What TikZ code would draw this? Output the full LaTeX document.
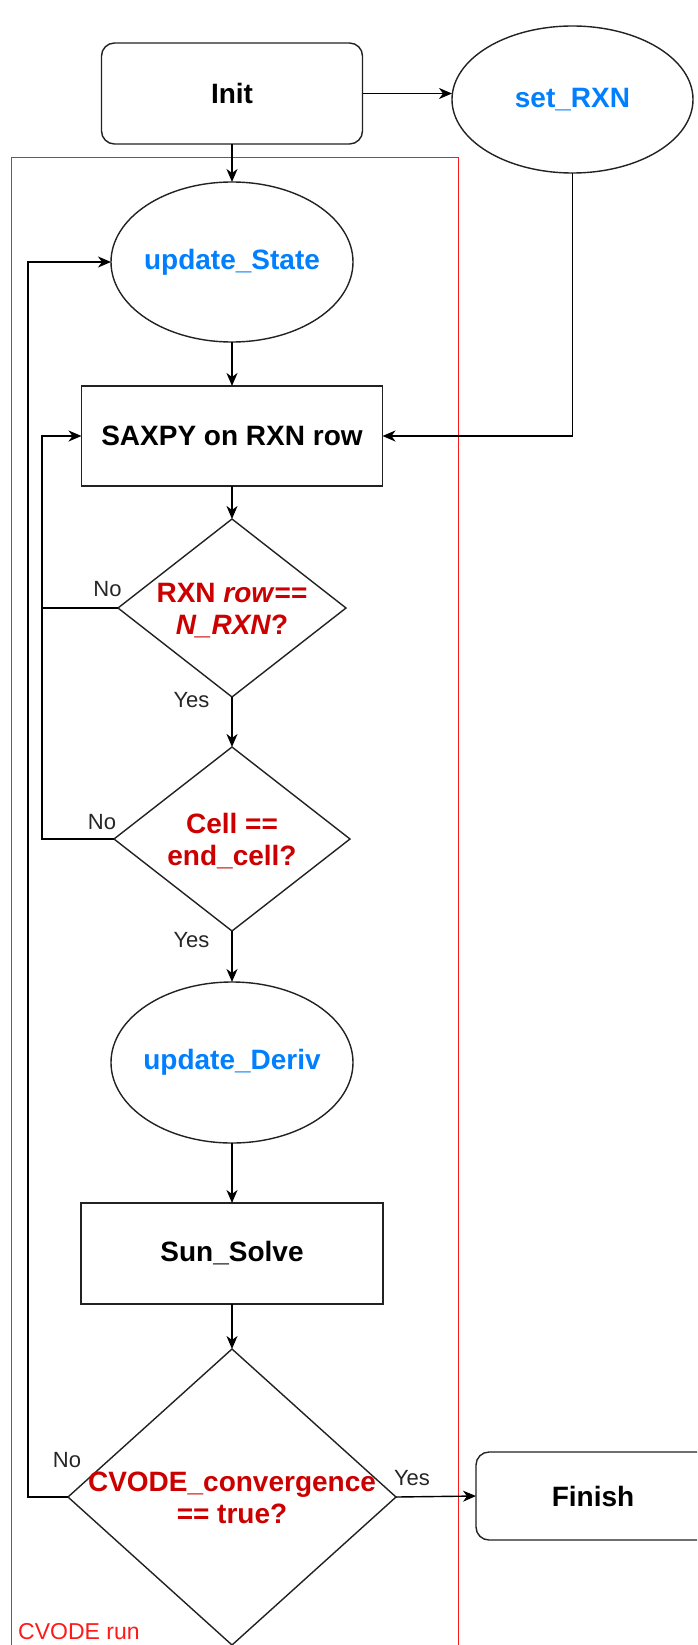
\documentclass[tikz,border=0pt]{standalone}
\usepackage{fontspec}
\setmainfont{Liberation Sans}
\usetikzlibrary{shapes.geometric,arrows.meta}

\definecolor{fnblue}{HTML}{007FFF}
\definecolor{condred}{HTML}{CC0000}
\definecolor{framered}{HTML}{FF1A1A}
\definecolor{edge}{HTML}{222222}

\newcommand\bigtext{\fontsize{28}{32}\selectfont\bfseries}
\newcommand\smalltext{\fontsize{22}{26}\selectfont}
\newcommand\frametext{\fontsize{23}{27}\selectfont}

\tikzset{
  base/.style={draw=edge, line width=1.4pt, inner sep=0pt, outer sep=0pt},
  rbox/.style={base, rectangle, rounded corners=13pt, font=\bigtext},
  pbox/.style={base, rectangle, font=\bigtext},
  fn/.style={base, ellipse},
  fnlabel/.style={font=\bigtext, text=fnblue},
  cond/.style={base, diamond},
  condtext/.style={font=\bigtext, text=condred, align=center},
  answer/.style={font=\smalltext, text=black!85, inner sep=0pt},
  flow/.style={draw=black, line width=1.4pt, -{Stealth[length=13pt,width=11pt,inset=4pt]}},
  link/.style={draw=black, line width=1.4pt},
  runframe/.style={draw=framered, line width=1pt, inner sep=0pt, outer sep=0pt, rectangle}
}

\begin{document}
\begin{tikzpicture}[x=1pt, y=-1pt]
  \useasboundingbox (0,0) rectangle (697,1645);
  \clip (0,0) rectangle (697,1645);
  \fill[white] (0,0) rectangle (697,1645);

  % solver-loop container
  \node[runframe, anchor=north west, minimum width=447pt, minimum height=1520pt] (run) at (11,158) {};
  \node[font=\frametext, text=framered, anchor=base west, inner sep=0pt] (runlabel) at (18,1639) {CVODE run};

  % main column
  \node[rbox, minimum width=261pt, minimum height=101pt] (init) at (232,93.5) {Init};
  \node[fn, minimum width=241pt, minimum height=147pt,
        label={[fnlabel]center:set\_RXN}] (setrxn) at (572.5,99.5) {};
  \node[fn, minimum width=242pt, minimum height=160pt,
        label={[fnlabel]center:update\_State}] (ust) at (232,262) {};
  \node[pbox, minimum width=301pt, minimum height=100pt] (saxpy) at (232,436) {SAXPY on RXN row};

  \node[cond, minimum width=228pt, minimum height=178pt] (d1) at (232,608) {};
  \node[condtext] (d1t) at ([yshift=-3pt]d1.center) {RXN \textit{row}==\\\textit{N\_RXN}?};

  \node[cond, minimum width=236pt, minimum height=184pt] (d2) at (232,839) {};
  \node[condtext] (d2t) at ([yshift=-2pt]d2.center) {Cell ==\\end\_cell?};

  \node[fn, minimum width=242pt, minimum height=161pt,
        label={[fnlabel]center:update\_Deriv}] (uder) at (232,1062.5) {};
  \node[pbox, minimum width=302pt, minimum height=101pt] (sun) at (232,1253.5) {Sun\_Solve};

  \node[cond, minimum width=328pt, minimum height=296pt] (d3) at (232,1497) {};
  \node[condtext] (d3t) at ([yshift=-1pt]d3.center) {CVODE\_convergence\\== true?};

  \node[rbox, minimum width=234pt, minimum height=88pt] (fin) at (593,1496) {Finish};

  % branch labels
  \node[answer] (no1) at (107.5,589) {No};
  \node[answer] (yes1) at (191.5,700) {Yes};
  \node[answer] (no2) at (102,822) {No};
  \node[answer] (yes2) at (191.5,940) {Yes};
  \node[answer] (no3) at (67,1460) {No};
  \node[answer] (yes3) at (412,1478) {Yes};

  % return rails
  \coordinate (inner) at (42,608);
  \coordinate (outer) at (28,1497);

  % connectors
  \draw[flow] (init.east) -- (init.east -| setrxn.west);
  \draw[flow] (init) -- (ust);
  \draw[flow] (ust) -- (saxpy);
  \draw[flow] (saxpy) -- (d1);
  \draw[flow] (d1) -- (d2);
  \draw[flow] (d2) -- (uder);
  \draw[flow] (uder) -- (sun);
  \draw[flow] (sun) -- (d3);
  \draw[flow] (d3.east) -- (fin.west);
  \draw[flow] (setrxn.south) |- (saxpy.east);
  \draw[link] (d1.west) -- (d1.west -| inner);
  \draw[flow] (d2.west) -- (d2.west -| inner) |- (saxpy.west);
  \draw[flow] (d3.west) -- (d3.west -| outer) |- (ust.west);
\end{tikzpicture}
\end{document}
